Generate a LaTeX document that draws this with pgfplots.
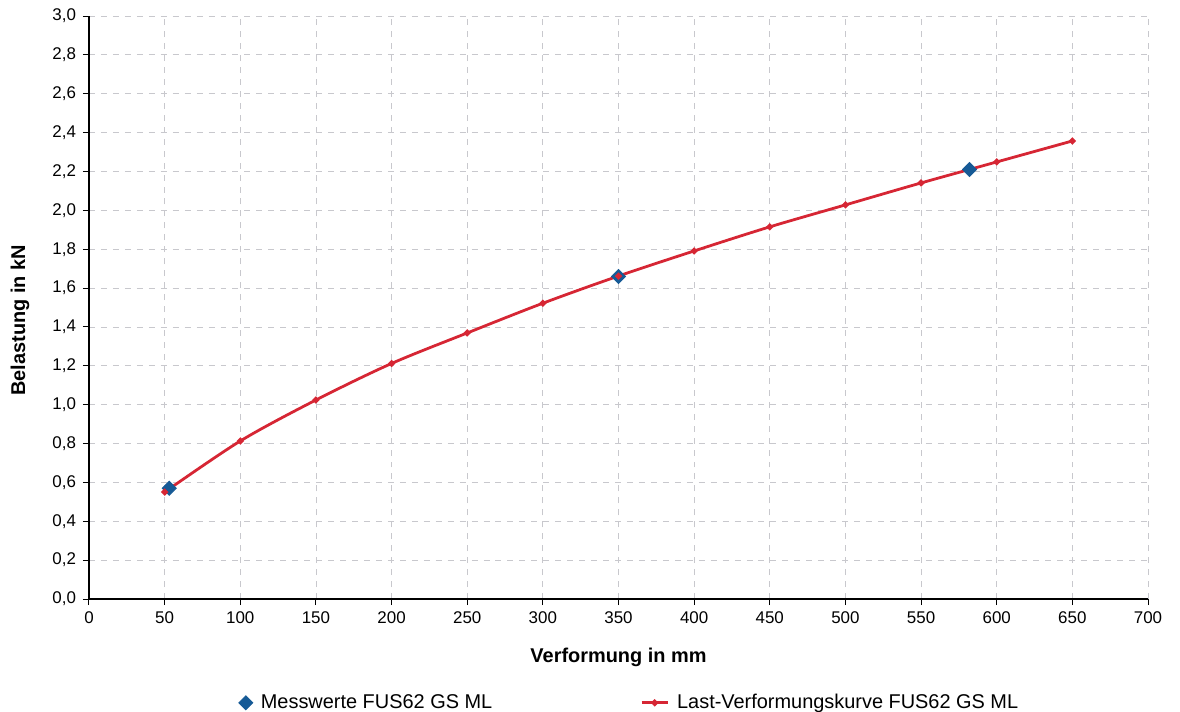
\documentclass[border=0pt]{standalone}
\usepackage{fontspec}
\setmainfont{Liberation Sans}
\usepackage{pgfplots}
\pgfplotsset{compat=1.18}
\definecolor{redline}{RGB}{214,38,52}
\definecolor{bluemark}{RGB}{22,90,150}
\definecolor{gridgray}{RGB}{200,200,205}
\begin{document}
\begin{tikzpicture}
\useasboundingbox (-44.5bp,-56.5bp) rectangle (545.5bp,299.5bp);
\begin{axis}[
  at={(0,0)}, anchor=south west,
  scale only axis, width=529.5bp, height=291.5bp,
  xmin=0, xmax=700, ymin=0, ymax=3.0,
  xtick={0,50,...,700}, ytick={0,0.2,...,3.01},
  axis x line=bottom, axis y line=left,
  axis line style={-, line width=0.9pt, black},
  tick align=outside, major tick length=3bp,
  tick style={black, line width=0.5pt},
  grid=major,
  major grid style={dashed, gridgray, line width=0.4pt},
  /pgf/number format/assume math mode=true,
  yticklabel style={/pgf/number format/.cd, fixed, fixed zerofill, precision=1, use comma},
  xticklabel style={/pgf/number format/.cd, fixed, precision=0},
  ticklabel style={font=\fontsize{8.5}{10}\selectfont},
  xlabel={\bfseries Verformung in mm},
  ylabel={\bfseries Belastung in kN},
  label style={font=\fontsize{10}{12}\selectfont},
  xlabel style={at={(axis description cs:0.5,-0.101)}, anchor=center},
  ylabel style={at={(axis description cs:-0.0652,0.478)}, anchor=center, rotate=0},
  legend columns=2,
  legend style={draw=none, fill=none, at={(axis description cs:0.5,-0.178)}, anchor=center, xshift=6bp,
    font=\fontsize{10}{12}\selectfont,
    /tikz/every even column/.append style={column sep=72bp},
    /tikz/every odd column/.append style={column sep=2bp}},
  legend cell align=left,
  legend image code/.code={%
    \draw[mark repeat=2,mark phase=2] plot coordinates {(0cm,0cm) (0.23cm,0cm) (0.46cm,0cm)};},
  clip=false,
]
\addplot[only marks, mark=square*, mark size=2.5pt, color=bluemark, mark options={rotate=45, fill=bluemark, draw=bluemark}]
  coordinates {(53,0.57) (350,1.66) (582,2.21)};
\addlegendentry{Messwerte FUS62 GS ML}
\addplot[smooth, color=redline, line width=1.4pt, mark=*, mark size=0.9pt, mark options={fill=redline, draw=redline}]
  coordinates {
  (50,0.55) (100,0.813) (150,1.024) (200,1.212) (250,1.369) (300,1.522)
  (350,1.662) (400,1.791) (450,1.915) (500,2.028) (550,2.141) (600,2.249) (650,2.357)};
\addlegendentry{Last-Verformungskurve FUS62 GS ML}
\end{axis}
\end{tikzpicture}
\end{document}
